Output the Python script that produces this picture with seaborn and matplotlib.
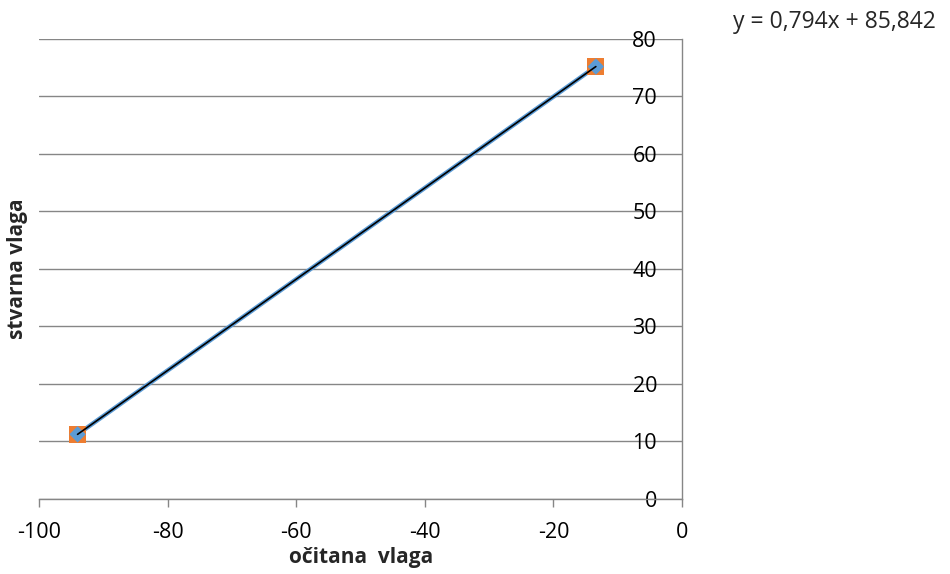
import matplotlib
matplotlib.use("Agg")
import matplotlib.pyplot as plt
import seaborn as sns
import numpy as np
import pandas as pd

# data
ocitana = [-94.0, -13.4]
stvarna = [11.2, 75.2]
x_ticks = [-100, -80, -60, -40, -20, 0]
y_ticks = [0, 10, 20, 30, 40, 50, 60, 70, 80]
equation = "y = 0,794x + 85,842"
x_label = "očitana  vlaga"
y_label = "stvarna vlaga"

df = pd.DataFrame({"x": ocitana, "y": stvarna})

sns.set_theme(style="white")
plt.rcParams['font.family'] = ['Open Sans', 'DejaVu Sans']

fig = plt.figure(figsize=(9.5, 5.74), dpi=100)
ax = fig.add_axes([39/950, 1-498.7/574, (682-39)/950, (498.7-39)/574])

grid_c = "#868686"
for yv in y_ticks:
    ax.axhline(yv, color=grid_c, lw=1.0, zorder=0)

sns.lineplot(data=df, x="x", y="y", color="#5B9BD5", lw=3.2, ax=ax, zorder=2)
sns.scatterplot(data=df, x="x", y="y", marker="s", s=150, color="#ED7D31",
                edgecolor="none", ax=ax, zorder=4)
sns.scatterplot(data=df, x="x", y="y", marker="D", s=70, color="#5B9BD5",
                edgecolor="none", ax=ax, zorder=5)
sns.regplot(data=df, x="x", y="y", ci=None, scatter=False, ax=ax,
            line_kws=dict(color="black", lw=1.2, zorder=6))

ax.set_xlim(-100, 0)
ax.set_ylim(0, 80)
ax.set_xticks(x_ticks)
ax.set_yticks(y_ticks)
ax.set_xticklabels([str(v) for v in x_ticks])
ax.set_yticklabels([str(v) for v in y_ticks])

for s in ["top", "right"]:
    ax.spines[s].set_visible(False)
ax.spines["left"].set_position(("data", 0))
ax.spines["left"].set_color(grid_c)
ax.spines["bottom"].set_color(grid_c)
ax.spines["left"].set_linewidth(1.0)
ax.spines["bottom"].set_linewidth(1.0)

ax.tick_params(axis="x", direction="out", length=6, width=1, color=grid_c,
               labelsize=15.5, pad=11, bottom=True, labelcolor="black")
ax.tick_params(axis="y", length=0, labelsize=15.5, pad=18, labelcolor="black")

ax.set_xlabel("")
ax.set_ylabel("")
fig.text(361/950, 1-558/574, x_label, ha="center", va="center",
         fontsize=15, fontweight="bold")
fig.text(18/950, 1-269/574, y_label, ha="center", va="center",
         fontsize=15, fontweight="bold", rotation=90)
fig.text(834/950, 1-22/574, equation, ha="center", va="center", fontsize=16.5)

fig.savefig("out.png", dpi=100)
